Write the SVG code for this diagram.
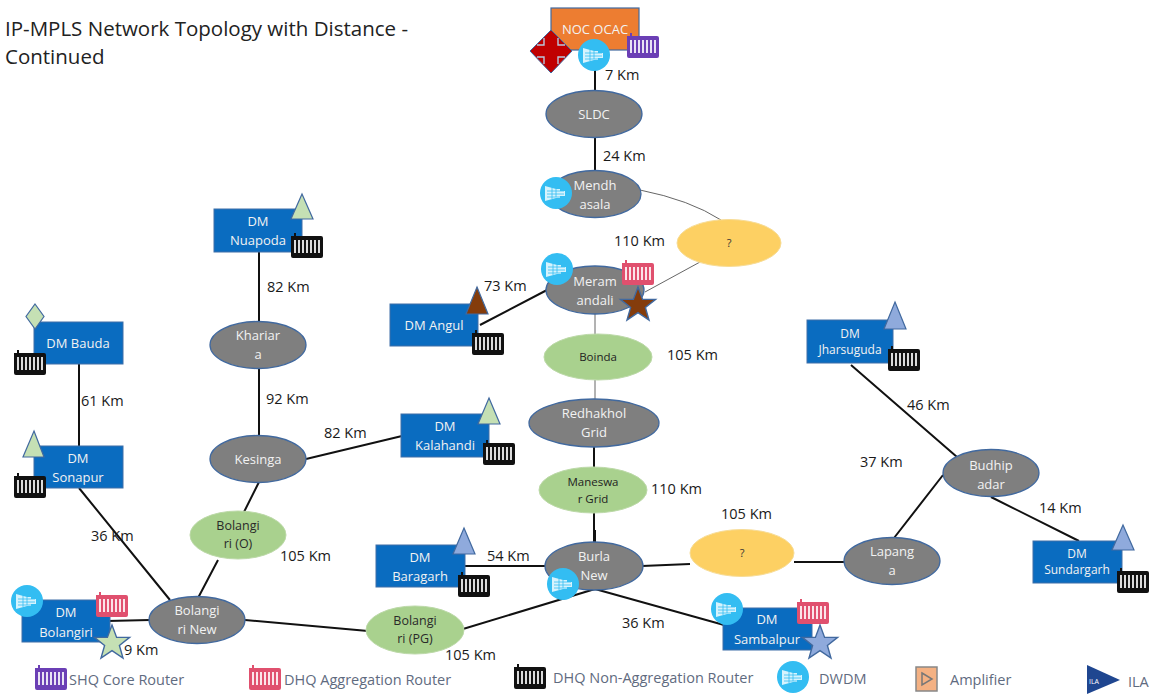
<svg xmlns="http://www.w3.org/2000/svg" width="1150" height="694" viewBox="0 0 1150 694">
<style>
text{font-family:"Open Sans","Noto Sans","Liberation Sans",sans-serif}
.w{fill:#f2f2f2;font-size:13px;text-anchor:middle}
.w2{fill:#f2f2f2;font-size:12px;text-anchor:middle}
.b{fill:#2a2a2a;font-size:12.5px;text-anchor:middle}
.km{font-size:14.5px;fill:#1a1a1a}
.lg{font-size:14.5px;fill:#5f6b80}
.dm{fill:#0a6cc0;stroke:#3f6fa8;stroke-width:1}
.g{fill:#7f7f7f;stroke:#41699f;stroke-width:1.3}
.gr{fill:#a9d18e;stroke:#bcd9a8;stroke-width:1}
.y{fill:#fdd063;stroke:#f7dc96;stroke-width:1}
.c{stroke:#111;stroke-width:2;fill:none}
.th{stroke:#666;stroke-width:1;fill:none}
.st{stroke:#41699f;stroke-width:1.4}
.tb{fill:#8faadc;stroke:#41699f;stroke-width:1.2}
.tg{fill:#c5e0b4;stroke:#41699f;stroke-width:1.2}
</style>
<defs>
<g id="r"><path d="M0 3h3v-3h2v3h25q2 0 2 2v18q0 2-2 2H2q-2 0-2-2z"/><path d="M4 7v13M8 7v13M12 7v13M16 7v13M20 7v13M24 7v13M28 7v13" stroke="#fff" stroke-width="1.7" fill="none"/></g>
<g id="d"><circle r="16" fill="#33bdf2"/><path d="M-11-7l11 3h4v2h5v5h-5v2h-4l-11 3z" fill="#d6f3fd"/><path d="M-9-2H8M-9 1H8M-9 4H4M-4-6v12M0-4v8" stroke="#33bdf2" stroke-width=".8"/></g>
<polygon id="s" points="0,-18 4.6,-5.6 17.6,-5.6 7.4,2.4 11,15 0,7.6 -11,15 -7.4,2.4 -17.6,-5.6 -4.6,-5.6"/>
</defs>

<text x="5" y="36" font-size="20.5" fill="#222">IP-MPLS Network Topology with Distance -</text>
<text x="5" y="64" font-size="20.5" fill="#222">Continued</text>

<g id="connectors">
<path class="c" d="M595 60V92M595 137V172M595 530V545M594 512V545M594 445V468"/>
<path class="th" d="M640 190Q690 200 721 220M595 313V336M595 380V400M645 292L700 262"/>
<path class="c" d="M259 250V324M259 368V436M259 482L241 518M218 560L198 598M306 459L402 436M79 362V446M79 488L170 600M107 621L150 620M245 620L368 631M463 629L595 589M465 566H546M642 566L690 564M794 562L845 562M595 589L724 625M851 365L957 457M894 538L943 475M991 497L1079 541M480 325L547 290"/>
</g>

<g id="noc"><rect x="551" y="8" width="88" height="42" fill="#ed7d31" stroke="#41699f" stroke-width="1.2"/><text class="w" x="595" y="34">NOC OCAC</text>
<polygon points="551,30 572,51 551,73 530,51" fill="#c00000" stroke="#41699f"/>
<path d="M537 45h7v-7M565 45h-7v-7M537 57h7v7M565 57h-7v7" fill="none" stroke="#b8c7dc" stroke-width="1.4"/>
<use href="#d" x="594" y="55"/><use href="#r" x="627" y="33" fill="#6b3fb5"/></g>
<g id="sldc"><ellipse class="g" cx="594" cy="114" rx="48" ry="23.5"/><text class="w" x="594" y="119">SLDC</text></g>
<g id="mendhasala"><ellipse class="g" cx="595" cy="194" rx="46" ry="23.5"/><text class="w" x="595" y="190">Mendh</text><text class="w" x="595" y="209">asala</text><use href="#d" x="556" y="193"/></g>
<g id="q1"><ellipse class="y" cx="729" cy="243" rx="52" ry="23.5"/><text x="729" y="247" font-size="11" text-anchor="middle" fill="#333">?</text></g>
<g id="meramandali"><ellipse class="g" cx="595" cy="290" rx="49" ry="24"/><text class="w" x="595" y="286">Meram</text><text class="w" x="595" y="305">andali</text><use href="#d" x="557" y="269"/><use href="#r" x="622" y="260" fill="#e0506e"/><use href="#s" x="638" y="305" fill="#843c0c" class="st"/></g>
<g id="boinda"><ellipse class="gr" cx="598" cy="357" rx="54" ry="23"/><text x="598" y="361" font-size="11.5" text-anchor="middle" fill="#222">Boinda</text></g>
<g id="redhakhol"><ellipse class="g" cx="594" cy="423" rx="65" ry="24"/><text class="w" x="594" y="418">Redhakhol</text><text class="w" x="594" y="437">Grid</text></g>
<g id="maneswar"><ellipse class="gr" cx="593" cy="490" rx="54" ry="23"/><text x="593" y="486" font-size="11.5" text-anchor="middle" fill="#222">Maneswa</text><text x="593" y="503" font-size="11.5" text-anchor="middle" fill="#222">r Grid</text></g>
<g id="burla"><ellipse class="g" cx="594" cy="566" rx="49" ry="24"/><text class="w" x="594" y="561">Burla</text><text class="w" x="594" y="580">New</text><use href="#d" x="563" y="584"/></g>
<g id="q2"><ellipse class="y" cx="742" cy="553" rx="52" ry="23.5"/><text x="742" y="557" font-size="11" text-anchor="middle" fill="#333">?</text></g>
<g id="lapanga"><ellipse class="g" cx="892" cy="561" rx="48" ry="23.5"/><text class="w" x="892" y="556">Lapang</text><text class="w" x="892" y="575">a</text></g>
<g id="budhipadar"><ellipse class="g" cx="991" cy="473" rx="48" ry="23.5"/><text class="w" x="991" y="470">Budhip</text><text class="w" x="991" y="489">adar</text></g>
<g id="jharsuguda"><rect class="dm" x="807" y="320" width="86" height="43"/><text class="w2" x="850" y="338">DM</text><text class="w2" x="850" y="354">Jharsuguda</text><polygon class="tb" points="895,302 906,329 884,329"/><use href="#r" x="888" y="346" fill="#111"/></g>
<g id="sundargarh"><rect class="dm" x="1033" y="541" width="89" height="42"/><text class="w2" x="1077" y="558">DM</text><text class="w2" x="1077" y="574">Sundargarh</text><polygon class="tb" points="1123,525 1134,550 1112,550"/><use href="#r" x="1117" y="568" fill="#111"/></g>
<g id="sambalpur"><rect class="dm" x="723" y="608" width="89" height="42"/><text class="w" x="767" y="624">DM</text><text class="w" x="767" y="644">Sambalpur</text><use href="#d" x="727" y="609"/><use href="#r" x="797" y="599" fill="#e0506e"/><use href="#s" x="820" y="643" fill="#8faadc" class="st"/></g>
<g id="baragarh"><rect class="dm" x="376" y="545" width="89" height="42"/><text class="w" x="420" y="562">DM</text><text class="w" x="420" y="581">Baragarh</text><polygon class="tb" points="464,528 475,554 453,554"/><use href="#r" x="458" y="572" fill="#111"/></g>
<g id="angul"><rect class="dm" x="390" y="304" width="88" height="42"/><text class="w" x="434" y="330">DM Angul</text><polygon points="477,287 488,314 466,314" fill="#843c0c" stroke="#41699f" stroke-width="1.2"/><use href="#r" x="472" y="330" fill="#111"/></g>
<g id="kalahandi"><rect class="dm" x="401" y="414" width="88" height="43"/><text class="w" x="445" y="431">DM</text><text class="w" x="445" y="450">Kalahandi</text><polygon class="tg" points="489,398 500,424 478,424"/><use href="#r" x="483" y="440" fill="#111"/></g>
<g id="nuapoda"><rect class="dm" x="214" y="209" width="88" height="43"/><text class="w" x="258" y="226">DM</text><text class="w" x="258" y="245">Nuapoda</text><polygon class="tg" points="302,194 313,219 291,219"/><use href="#r" x="291" y="233" fill="#111"/></g>
<g id="khariar"><ellipse class="g" cx="258" cy="345" rx="48" ry="23.5"/><text class="w" x="258" y="340">Khariar</text><text class="w" x="258" y="359">a</text></g>
<g id="kesinga"><ellipse class="g" cx="258" cy="459" rx="48" ry="23.5"/><text class="w" x="258" y="464">Kesinga</text></g>
<g id="bolangiriO"><ellipse class="gr" cx="238" cy="535" rx="48" ry="24"/><text class="b" x="238" y="530">Bolangi</text><text class="b" x="238" y="548">ri (O)</text></g>
<g id="bauda"><rect class="dm" x="34" y="322" width="89" height="42"/><text class="w" x="78" y="348">DM Bauda</text><polygon class="tg" points="35,304 44,316.500 35,329 26,316.500"/><use href="#r" x="14" y="350" fill="#111"/></g>
<g id="sonapur"><rect class="dm" x="34" y="446" width="89" height="42"/><text class="w" x="78" y="463">DM</text><text class="w" x="78" y="482">Sonapur</text><polygon class="tg" points="34,431 44,457 23,457"/><use href="#r" x="14" y="473" fill="#111"/></g>
<g id="bolangiri"><rect class="dm" x="22" y="600" width="88" height="42"/><text class="w" x="66" y="617">DM</text><text class="w" x="66" y="637">Bolangiri</text><use href="#d" x="27" y="601"/><use href="#r" x="96" y="592" fill="#e0506e"/><use href="#s" x="112" y="643" fill="#c5e0b4" class="st"/></g>
<g id="bolangiriNew"><ellipse class="g" cx="197" cy="620" rx="48" ry="23.5"/><text class="w" x="197" y="615">Bolangi</text><text class="w" x="197" y="634">ri New</text></g>
<g id="bolangiriPG"><ellipse class="gr" cx="415" cy="630" rx="49" ry="24"/><text class="b" x="415" y="625">Bolangi</text><text class="b" x="415" y="643">ri (PG)</text></g>

<g id="distances">
<text class="km" x="605" y="80">7 Km</text><text class="km" x="603" y="161">24 Km</text><text class="km" x="614" y="246">110 Km</text><text class="km" x="484" y="291">73 Km</text><text class="km" x="667" y="360">105 Km</text><text class="km" x="651" y="494">110 Km</text><text class="km" x="721" y="519">105 Km</text><text class="km" x="487" y="561">54 Km</text><text class="km" x="622" y="628">36 Km</text><text class="km" x="445" y="660">105 Km</text><text class="km" x="267" y="292">82 Km</text><text class="km" x="266" y="404">92 Km</text><text class="km" x="324" y="438">82 Km</text><text class="km" x="280" y="561">105 Km</text><text class="km" x="81" y="406">61 Km</text><text class="km" x="91" y="541">36 Km</text><text class="km" x="124" y="655">9 Km</text><text class="km" x="907" y="410">46 Km</text><text class="km" x="860" y="467">37 Km</text><text class="km" x="1039" y="513">14 Km</text>
</g>

<g id="legend">
<use href="#r" x="35" y="665" fill="#6b3fb5"/><text class="lg" x="69" y="685">SHQ Core Router</text>
<use href="#r" x="249" y="665" fill="#e0506e"/><text class="lg" x="284" y="685">DHQ Aggregation Router</text>
<use href="#r" x="514" y="664" fill="#111"/><text class="lg" x="553" y="683">DHQ Non-Aggregation Router</text>
<use href="#d" x="793" y="677"/><text class="lg" x="819" y="684">DWDM</text>
<rect x="916" y="667" width="21" height="24" fill="#f4b183" stroke="#888" stroke-width="1.5"/><path d="M922 673l10 6-10 6z" fill="none" stroke="#777" stroke-width="1.5"/><text class="lg" x="950" y="685">Amplifier</text>
<polygon points="1087,665 1120,680 1087,694" fill="#1f4690"/><text x="1089" y="684" font-size="7" fill="#fff">ILA</text><text class="lg" x="1128" y="687">ILA</text>
</g>
</svg>
